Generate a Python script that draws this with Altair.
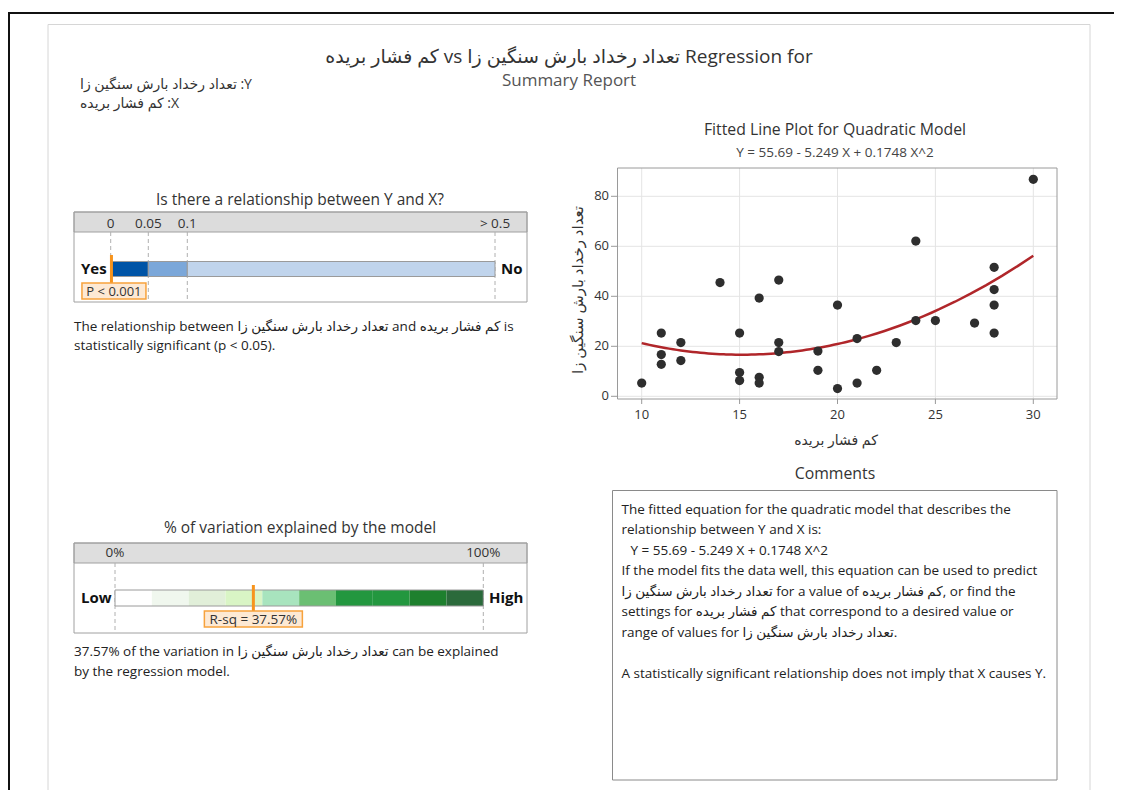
import altair as alt
import pandas as pd

# ---------------- data ----------------
Y_NAME = "تعداد رخداد بارش سنگین زا"
X_NAME = "کم فشار بریده"

x_vals = [10, 11, 11, 11, 12, 12, 14, 15, 15, 15, 16, 16, 16, 17, 17, 17,
          19, 19, 20, 20, 21, 21, 22, 23, 24, 24, 25, 27, 28, 28, 28, 28, 30]
y_vals = [5.3, 25.3, 16.7, 12.8, 21.5, 14.3, 45.5, 25.3, 9.5, 6.3, 39.3, 7.6, 5.3,
          46.5, 21.5, 17.9, 18.1, 10.4, 36.5, 3.1, 23.1, 5.3, 10.4, 21.5, 62.1,
          30.3, 30.3, 29.3, 51.6, 42.7, 36.5, 25.3, 86.8]

x_ticks = [10, 15, 20, 25, 30]
y_ticks = [0, 20, 40, 60, 80]

equation = "Y = 55.69 - 5.249 X + 0.1748 X^2"

p_edges = [0, 0.05, 0.1, 0.5]
p_tick_labels = ["0", "0.05", "0.1", "> 0.5"]
p_seg_names = ["p < 0.05", "0.05 - 0.1", "p > 0.1"]
p_value = 0.001
p_label = "P < 0.001"

r_edges = [0, 10, 20, 30, 40, 50, 60, 70, 80, 90, 100]
r_tick_values = [0, 100]
r_tick_labels = ["0%", "100%"]
rsq = 37.57
rsq_label = "R-sq = 37.57%"

comment_lines = [
    "The fitted equation for the quadratic model that describes the",
    "relationship between Y and X is:",
    equation,
    "If the model fits the data well, this equation can be used to predict",
    Y_NAME + " for a value of " + X_NAME + ", or find the",
    "settings for " + X_NAME + " that correspond to a desired value or",
    "range of values for " + Y_NAME + ".",
    "",
    "A statistically significant relationship does not imply that X causes Y.",
]
comment_indent = [0, 0, 1, 0, 0, 0, 0, 0, 0]

# ---------------- layout helpers ----------------
W, H = 1106, 782
OX, OY = 8, 8
FONT = "Open Sans, DejaVu Sans, sans-serif"
RLE, PDF = "\u202b", "\u202c"
BODY = 13.5


def px(v):
    return v - OX


def py(v):
    return v - OY


one = pd.DataFrame({"k": [0]})


def txt(s, x, y, size=12, weight="normal", align="left", color="#222222", angle=0):
    d = pd.DataFrame({"t": [s]})
    return alt.Chart(d).mark_text(
        fontSize=size, fontWeight=weight, align=align, baseline="middle",
        color=color, font=FONT, angle=angle
    ).encode(text="t:N", x=alt.value(px(x)), y=alt.value(py(y)))


def box(x1, y1, x2, y2, fill="transparent", stroke="#a0a0a0", sw=1.0):
    return alt.Chart(one).mark_rect(fill=fill, stroke=stroke, strokeWidth=sw).encode(
        x=alt.value(px(x1)), x2=alt.value(px(x2)),
        y=alt.value(py(y1)), y2=alt.value(py(y2)))


def hline(x1, x2, y, color, sw):
    return alt.Chart(one).mark_rule(color=color, strokeWidth=sw).encode(
        x=alt.value(px(x1)), x2=alt.value(px(x2)), y=alt.value(py(y)))


def vline(x, y1, y2, color, sw):
    return alt.Chart(one).mark_rule(color=color, strokeWidth=sw).encode(
        x=alt.value(px(x)), y=alt.value(py(y1)), y2=alt.value(py(y2)))


layers = []

# frame lines
layers.append(hline(0, 1122, 13, "#111111", 2))
layers.append(vline(9, 13, 806, "#111111", 2))
layers.append(hline(48, 1090, 24.5, "#d6d6d6", 1))
layers.append(vline(48, 24.5, 806, "#d6d6d6", 1))
layers.append(vline(1090, 24.5, 806, "#d6d6d6", 1))

# titles
layers.append(txt(RLE + "Regression for " + Y_NAME + " vs " + X_NAME + PDF,
                  569, 57, size=19, align="center", color="#333333"))
layers.append(txt("Summary Report", 569, 81, size=17, align="center", color="#555555"))
layers.append(txt(RLE + "Y: " + Y_NAME + PDF, 80, 85, size=14, color="#333333"))
layers.append(txt(RLE + "X: " + X_NAME + PDF, 80, 104, size=14, color="#333333"))

# ---------------- gauge 1: p-value ----------------
psc = alt.Scale(domain=p_edges, range=[px(110.7), px(148.3), px(187.3), px(495)],
                nice=False, zero=False)
layers.append(txt("Is there a relationship between Y and X?", 300, 200, size=15.5,
                  align="center", color="#333333"))
layers.append(box(74, 212, 527, 232, fill="#dcdcdc", stroke="#a0a0a0"))
layers.append(box(74, 212, 527, 302, stroke="#a0a0a0"))

p_ticks_df = pd.DataFrame({"v": p_edges, "lab": p_tick_labels})
layers.append(alt.Chart(p_ticks_df).mark_rule(color="#b0b0b0", strokeDash=[4, 3]).encode(
    x=alt.X("v:Q", scale=psc, axis=None), y=alt.value(py(232)), y2=alt.value(py(301))))
layers.append(alt.Chart(p_ticks_df).mark_text(fontSize=13.5, color="#333333", font=FONT,
                                             baseline="middle").encode(
    x=alt.X("v:Q", scale=psc, axis=None), y=alt.value(py(224)), text="lab:N"))

p_seg_df = pd.DataFrame({"a": p_edges[:-1], "b": p_edges[1:], "name": p_seg_names})
layers.append(alt.Chart(p_seg_df).mark_rect(stroke="#9a9a9a", strokeWidth=1).encode(
    x=alt.X("a:Q", scale=psc, axis=None), x2="b:Q",
    y=alt.value(py(261.5)), y2=alt.value(py(276.5)),
    color=alt.Color("name:N", legend=None,
                    scale=alt.Scale(domain=p_seg_names,
                                    range=["#0054a6", "#7ba7d9", "#c0d4ec"]))))
layers.append(txt("Yes", 81, 268.5, size=15, weight="bold", color="#111111"))
layers.append(txt("No", 501, 268.5, size=15, weight="bold", color="#111111"))

p_df = pd.DataFrame({"p": [p_value], "lab": [p_label]})
layers.append(alt.Chart(p_df).mark_rule(color="#f7941d", strokeWidth=3).encode(
    x=alt.X("p:Q", scale=psc, axis=None), y=alt.value(py(255)), y2=alt.value(py(283))))
layers.append(alt.Chart(p_df).mark_rect(fill="#fde9d4", stroke="#f7a23c", strokeWidth=1.5,
                                        xOffset=-29.5, x2Offset=34.5).encode(
    x=alt.X("p:Q", scale=psc, axis=None), x2="p:Q",
    y=alt.value(py(283)), y2=alt.value(py(299))))
layers.append(alt.Chart(p_df).mark_text(fontSize=13, color="#333333", font=FONT,
                                        baseline="middle", dx=2.5).encode(
    x=alt.X("p:Q", scale=psc, axis=None), y=alt.value(py(291.5)), text="lab:N"))

layers.append(txt("The relationship between " + Y_NAME + " and " + X_NAME + " is",
                  74, 326.5, size=BODY))
layers.append(txt("statistically significant (p < 0.05).", 74, 346, size=BODY))

# ---------------- gauge 2: R-sq ----------------
rsc = alt.Scale(domain=[0, 100], range=[px(115), px(483.3)], nice=False, zero=False)
layers.append(txt("% of variation explained by the model", 300, 528, size=15.5,
                  align="center", color="#333333"))
layers.append(box(74, 543, 527, 563, fill="#dedede", stroke="#a0a0a0"))
layers.append(box(74, 543, 527, 633, stroke="#a0a0a0"))

r_ticks_df = pd.DataFrame({"v": r_tick_values, "lab": r_tick_labels})
layers.append(alt.Chart(r_ticks_df).mark_rule(color="#b0b0b0", strokeDash=[4, 3]).encode(
    x=alt.X("v:Q", scale=rsc, axis=None), y=alt.value(py(563)), y2=alt.value(py(632))))
layers.append(alt.Chart(r_ticks_df).mark_text(fontSize=13.5, color="#333333", font=FONT,
                                             baseline="middle").encode(
    x=alt.X("v:Q", scale=rsc, axis=None), y=alt.value(py(553)), text="lab:N"))

r_names = [f"{a}-{b}%" for a, b in zip(r_edges[:-1], r_edges[1:])]
r_seg_df = pd.DataFrame({"a": r_edges[:-1], "b": r_edges[1:], "name": r_names})
layers.append(alt.Chart(r_seg_df).mark_rect().encode(
    x=alt.X("a:Q", scale=rsc, axis=None), x2="b:Q",
    y=alt.value(py(590)), y2=alt.value(py(606)),
    color=alt.Color("name:N", legend=None,
                    scale=alt.Scale(domain=r_names,
                                    range=["#ffffff", "#f0f7ee", "#e1efd9", "#d9f5c5",
                                           "#a8e4be", "#6bbf73", "#23973f", "#23973f",
                                           "#1e802e", "#2b6a3b"]))))
r_out_df = pd.DataFrame({"a": [r_edges[0]], "b": [r_edges[-1]]})
layers.append(alt.Chart(r_out_df).mark_rect(fill="transparent", stroke="#9a9a9a",
                                            strokeWidth=1).encode(
    x=alt.X("a:Q", scale=rsc, axis=None), x2="b:Q",
    y=alt.value(py(590)), y2=alt.value(py(606))))
layers.append(txt("Low", 81, 597.5, size=15, weight="bold", color="#111111"))
layers.append(txt("High", 489, 597.5, size=15, weight="bold", color="#111111"))

r_df = pd.DataFrame({"r": [rsq], "lab": [rsq_label]})
layers.append(alt.Chart(r_df).mark_rule(color="#f7941d", strokeWidth=3).encode(
    x=alt.X("r:Q", scale=rsc, axis=None), y=alt.value(py(585)), y2=alt.value(py(611))))
layers.append(alt.Chart(r_df).mark_rect(fill="#fde9d4", stroke="#f7a23c", strokeWidth=1.5,
                                        xOffset=-49, x2Offset=49).encode(
    x=alt.X("r:Q", scale=rsc, axis=None), x2="r:Q",
    y=alt.value(py(611)), y2=alt.value(py(627))))
layers.append(alt.Chart(r_df).mark_text(fontSize=13.5, color="#333333", font=FONT,
                                        baseline="middle").encode(
    x=alt.X("r:Q", scale=rsc, axis=None), y=alt.value(py(619.5)), text="lab:N"))

layers.append(txt(f"{rsq:.2f}% of the variation in " + Y_NAME + " can be explained",
                  74, 652, size=BODY))
layers.append(txt("by the regression model.", 74, 671.5, size=BODY))

# ---------------- scatter: fitted line plot ----------------
sx = alt.Scale(domain=[10, 30], range=[px(641.7), px(1033.3)], nice=False, zero=False)
sy = alt.Scale(domain=[0, 80], range=[py(396.3), py(196.3)], nice=False, zero=False)

layers.append(txt("Fitted Line Plot for Quadratic Model", 835, 130, size=15.8,
                  align="center", color="#333333"))
layers.append(txt(equation, 835, 153, size=13.5, align="center", color="#444444"))

xt_df = pd.DataFrame({"v": x_ticks, "lab": [str(v) for v in x_ticks]})
yt_df = pd.DataFrame({"v": y_ticks, "lab": [str(v) for v in y_ticks]})
layers.append(alt.Chart(xt_df).mark_rule(color="#e4e4e4", strokeWidth=1).encode(
    x=alt.X("v:Q", scale=sx, axis=None), y=alt.value(py(168)), y2=alt.value(py(399))))
layers.append(alt.Chart(yt_df).mark_rule(color="#e4e4e4", strokeWidth=1).encode(
    y=alt.Y("v:Q", scale=sy, axis=None), x=alt.value(px(617.5)), x2=alt.value(px(1057))))
layers.append(box(617.5, 168, 1057, 399, stroke="#9a9a9a"))
layers.append(alt.Chart(xt_df).mark_rule(color="#9a9a9a", strokeWidth=1).encode(
    x=alt.X("v:Q", scale=sx, axis=None), y=alt.value(py(399)), y2=alt.value(py(404))))
layers.append(alt.Chart(yt_df).mark_rule(color="#9a9a9a", strokeWidth=1).encode(
    y=alt.Y("v:Q", scale=sy, axis=None), x=alt.value(px(611)), x2=alt.value(px(617.5))))
layers.append(alt.Chart(xt_df).mark_text(fontSize=13, color="#333333", font=FONT,
                                         baseline="middle").encode(
    x=alt.X("v:Q", scale=sx, axis=None), y=alt.value(py(415)), text="lab:N"))
layers.append(alt.Chart(yt_df).mark_text(fontSize=13, color="#333333", font=FONT,
                                         baseline="middle", align="right").encode(
    y=alt.Y("v:Q", scale=sy, axis=None), x=alt.value(px(609)), text="lab:N"))
layers.append(txt(X_NAME, 836, 441, size=14, align="center", color="#333333"))
layers.append(txt(Y_NAME, 578, 290, size=15, align="center", color="#333333", angle=270))

pts = pd.DataFrame({"x": x_vals, "y": y_vals})
layers.append(alt.Chart(pts).transform_regression(
    "x", "y", method="poly", order=2, extent=[10, 30]
).mark_line(color="#b0262a", strokeWidth=2.5).encode(
    x=alt.X("x:Q", scale=sx, axis=None), y=alt.Y("y:Q", scale=sy, axis=None)))
layers.append(alt.Chart(pts).mark_circle(size=85, color="#2e2e2e", opacity=1).encode(
    x=alt.X("x:Q", scale=sx, axis=None), y=alt.Y("y:Q", scale=sy, axis=None)))

# ---------------- comments ----------------
layers.append(txt("Comments", 835, 473.5, size=15.8, align="center", color="#333333"))
layers.append(box(612.5, 490.5, 1057, 780, stroke="#8a8a8a"))
for i, line in enumerate(comment_lines):
    if line:
        layers.append(txt(line, 621.5 + 9 * comment_indent[i], 509.5 + i * 20.5, size=BODY))

chart = alt.layer(*layers).resolve_scale(
    x="independent", y="independent", color="independent"
).properties(
    width=W, height=H, padding=0, background="white",
    autosize=alt.AutoSizeParams(type="none")
).configure_view(stroke=None)

chart.save("out.html", embed_options={"renderer": "svg", "actions": False})
